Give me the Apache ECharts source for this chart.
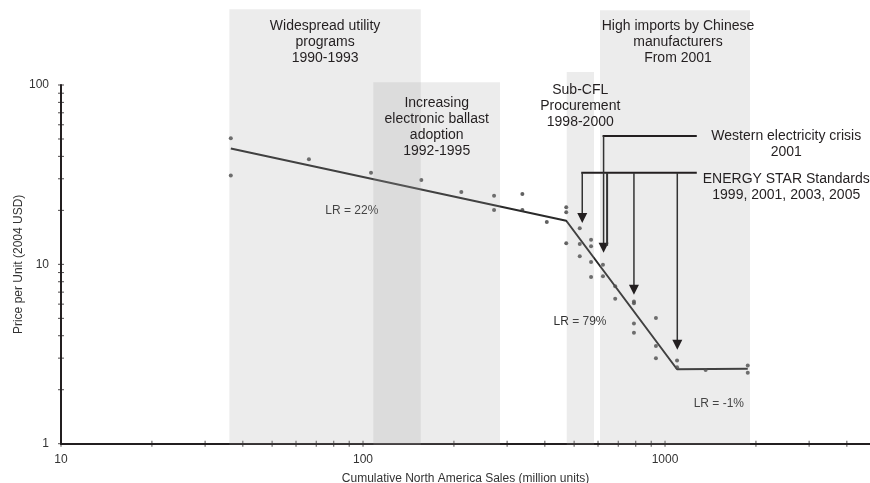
<!DOCTYPE html>
<html><head><meta charset="utf-8">
<script src="https://cdn.jsdelivr.net/npm/echarts@6/dist/echarts.min.js"></script>
<style>html,body{margin:0;padding:0;background:#fff}#c{width:870px;height:483px}</style>
</head><body><div id="c"></div>
<script>
// ---- data (x: cumulative sales, million units; y: price per unit, 2004 USD) ----
const pointX = [36.5, 36.5, 66.2, 106.3, 156, 211.6, 271.6, 271.6, 337, 337, 406, 471, 471, 471, 522, 522, 522, 569, 569, 569, 569, 623, 623, 684, 684, 789, 789, 789, 789, 933, 933, 933, 1096, 1096, 1363, 1879, 1879];
const pointY = [50.4, 31.3, 38.5, 32.4, 29.5, 25.3, 24.1, 20.1, 24.7, 20.1, 17.2, 20.8, 19.5, 13.1, 15.9, 13.0, 11.1, 13.7, 12.6, 10.3, 8.5, 9.96, 8.57, 7.54, 6.43, 6.21, 6.06, 4.68, 4.15, 5.02, 3.51, 3.0, 2.91, 2.67, 2.58, 2.73, 2.49];
const trendX = [36.5, 471, 1096, 1879];
const trendY = [44.3, 17.5, 2.60, 2.62];

const majorXLabels = [10, 100, 1000];
const xTickValues = [10, 20, 30, 40, 50, 60, 70, 80, 90, 100, 200, 300, 400, 500, 600, 700, 800, 900, 1000, 2000, 3000, 4000];
const yTickValues = [1, 2, 3, 4, 5, 6, 7, 8, 9, 10, 20, 30, 40, 50, 60, 70, 80, 90, 100];

const regionLabels = ['Widespread utility\nprograms\n1990-1993', 'Increasing\nelectronic ballast\nadoption\n1992-1995', 'Sub-CFL\nProcurement\n1998-2000', 'High imports by Chinese\nmanufacturers\nFrom 2001'];
const regionX0 = [36.1, 108.2, 472.6, 609];
const regionX1 = [155.3, 284.2, 582, 1912];
const regionTop = [264.8, 103.5, 118.2, 261];
const regionLabelX = [74.9, 175.4, 524, 1104];
const regionLabelY = [173.9, 57.9, 76.3, 173.9];

const lrLabels = ['LR = 22%', 'LR = 79%', 'LR = -1%'];
const lrX = [91.8, 523, 1507];
const lrY = [19.95, 4.8, 1.68];

const calloutLabels = ['Western electricity crisis\n2001', 'ENERGY STAR Standards\n1999, 2001, 2003, 2005'];
const calloutX = [2520, 2520];
const calloutY = [46.9, 27.1];
const bracketX0 = [626, 532];
const bracketX1 = [1274, 1274];
const bracketY = [51.9, 32.4];
const arrowX = [626, 532, 643, 789, 1098];
const arrowFromY = [51.9, 32.4, 32.4, 32.4, 32.4];
const arrowToY = [11.6, 17.0, 11.6, 6.77, 3.34];
const arrowHasHead = [1, 1, 0, 1, 1];

// ---- chart ----
const FONT = '"Liberation Sans", Arial, Helvetica, sans-serif';
const INK = '#231f20';
const chart = echarts.init(document.getElementById('c'), null, {renderer: 'canvas'});

function textItem(labels, size, color) {
  return function (params, api) {
    const p = api.coord([api.value(0), api.value(1)]);
    return {
      type: 'text',
      style: {
        text: labels[params.dataIndex], x: p[0], y: p[1],
        align: 'center', verticalAlign: 'middle',
        font: size + 'px ' + FONT, fill: color, lineHeight: 16
      }
    };
  };
}

const option = {
  animation: false,
  backgroundColor: '#ffffff',
  grid: {left: 61, right: 0, top: 85, bottom: 39.3, containLabel: false, outerBoundsMode: 'none'},
  xAxis: {
    type: 'log', logBase: 10, min: 10, max: 4772,
    name: 'Cumulative North America Sales (million units)',
    nameLocation: 'middle', nameGap: 29, nameMoveOverlap: false,
    nameTextStyle: {fontFamily: FONT, fontSize: 12, color: '#333'},
    axisLine: {lineStyle: {color: INK, width: 2}},
    axisTick: {show: false}, minorTick: {show: false},
    splitLine: {show: false}, minorSplitLine: {show: false},
    axisLabel: {
      fontFamily: FONT, fontSize: 12, color: '#333', margin: 10,
      formatter: v => majorXLabels.indexOf(Math.round(v)) >= 0 ? String(Math.round(v)) : ''
    }
  },
  yAxis: {
    type: 'log', logBase: 10, min: 1, max: 100,
    name: 'Price per Unit (2004 USD)',
    nameLocation: 'middle', nameGap: 36, nameMoveOverlap: false,
    nameTextStyle: {fontFamily: FONT, fontSize: 12, color: '#333'},
    axisLine: {lineStyle: {color: INK, width: 2}},
    axisTick: {show: false}, minorTick: {show: false},
    splitLine: {show: false}, minorSplitLine: {show: false},
    axisLabel: {fontFamily: FONT, fontSize: 12, color: '#333', margin: 12}
  },
  series: [
    { // x ticks
      type: 'scatter', silent: true, clip: false, z: 3,
      symbol: 'rect', symbolSize: [1, 6],
      itemStyle: {color: INK},
      data: xTickValues.map(v => [v, 1])
    },
    { // y ticks
      type: 'scatter', silent: true, clip: false, z: 3,
      symbol: 'rect', symbolSize: [6, 1],
      itemStyle: {color: INK},
      data: yTickValues.map(v => [10, v])
    },
    { // trend (experience curve)
      type: 'line', silent: true, z: 3, symbol: 'none',
      lineStyle: {color: '#2a2a2a', width: 2},
      data: trendX.map((x, i) => [x, trendY[i]])
    },
    { // observations
      type: 'scatter', silent: true, z: 4,
      symbol: 'circle', symbolSize: 4,
      itemStyle: {color: '#3a3a3a'},
      data: pointX.map((x, i) => [x, pointY[i]])
    },
    { // LR labels
      type: 'custom', silent: true, z: 4, clip: false,
      renderItem: textItem(lrLabels, 12, '#2e2e2e'),
      data: lrX.map((x, i) => [x, lrY[i]])
    },
    { // shaded periods (drawn on top, translucent)
      type: 'custom', silent: true, z: 6, clip: false,
      renderItem: function (params, api) {
        const p0 = api.coord([api.value(0), api.value(2)]);
        const p1 = api.coord([api.value(1), 1]);
        return {
          type: 'rect',
          shape: {x: p0[0], y: p0[1], width: p1[0] - p0[0], height: p1[1] - p0[1] + 1},
          style: {fill: 'rgba(160,160,160,0.2)'}
        };
      },
      data: regionX0.map((x, i) => [x, regionX1[i], regionTop[i]])
    },
    { // period titles
      type: 'custom', silent: true, z: 10, clip: false,
      renderItem: textItem(regionLabels, 14, INK),
      data: regionLabelX.map((x, i) => [x, regionLabelY[i]])
    },
    { // callout titles
      type: 'custom', silent: true, z: 10, clip: false,
      renderItem: textItem(calloutLabels, 14, INK),
      data: calloutX.map((x, i) => [x, calloutY[i]])
    },
    { // brackets
      type: 'custom', silent: true, z: 9, clip: false,
      renderItem: function (params, api) {
        const a = api.coord([api.value(0), api.value(2)]);
        const b = api.coord([api.value(1), api.value(2)]);
        return {type: 'line', shape: {x1: a[0] - 1, y1: a[1], x2: b[0], y2: b[1]},
          style: {stroke: INK, lineWidth: 2}};
      },
      data: bracketX0.map((x, i) => [x, bracketX1[i], bracketY[i]])
    },
    { // arrows
      type: 'custom', silent: true, z: 9, clip: false,
      renderItem: function (params, api) {
        const top = api.coord([api.value(0), api.value(1)]);
        const tip = api.coord([api.value(0), api.value(2)]);
        const head = api.value(3) === 1;
        const children = [{
          type: 'line',
          shape: {x1: top[0], y1: top[1], x2: tip[0], y2: tip[1] - (head ? 9 : 7)},
          style: {stroke: '#333', lineWidth: head ? 1.5 : 2}
        }];
        if (head) {
          children.push({
            type: 'polygon',
            shape: {points: [[tip[0] - 5, tip[1] - 10], [tip[0] + 5, tip[1] - 10], [tip[0], tip[1]]]},
            style: {fill: INK}
          });
        }
        return {type: 'group', children: children};
      },
      data: arrowX.map((x, i) => [x, arrowFromY[i], arrowToY[i], arrowHasHead[i]])
    }
  ]
};
chart.setOption(option);
</script>
</body></html>
